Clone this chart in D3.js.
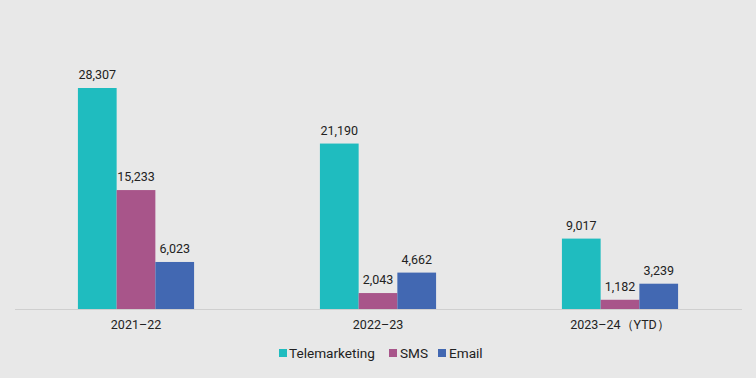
<!DOCTYPE html>
<html><head><meta charset="utf-8">
<script src="https://cdn.jsdelivr.net/npm/d3@7"></script>
<style>html,body{margin:0;padding:0;background:#e8e8e8;}svg{display:block;}</style>
</head><body>
<svg id="c" width="756" height="378"></svg>
<script>
const categories = ["2021–22", "2022–23", "2023–24（YTD）"];
const seriesNames = ["Telemarketing", "SMS", "Email"];
const telemarketing = [28307, 21190, 9017];
const sms = [15233, 2043, 1182];
const email = [6023, 4662, 3239];
const colors = ["#1fbcbf", "#a8558a", "#4268b2"];

const values = [telemarketing, sms, email];
const svg = d3.select("#c");
const font = "Roboto, 'Noto Sans', sans-serif";
svg.append("rect").attr("width", 756).attr("height", 378).attr("fill", "#e8e8e8");

const x0 = d3.scaleBand().domain(categories).range([15, 741]).paddingInner(0.52).paddingOuter(0.26);
const x1 = d3.scaleBand().domain(seriesNames).range([0, x0.bandwidth()]);
const y = d3.scaleLinear().domain([0, 28307]).range([309, 88]);

svg.append("line").attr("x1", 15).attr("x2", 742).attr("y1", 309.5).attr("y2", 309.5)
  .attr("stroke", "#cfcfcf").attr("stroke-width", 1);

const data = [];
categories.forEach((c, i) => seriesNames.forEach((s, j) => data.push({c, s, j, v: values[j][i]})));

svg.selectAll("rect.bar").data(data).enter().append("rect").attr("class", "bar")
  .attr("x", d => x0(d.c) + x1(d.s))
  .attr("width", x1.bandwidth())
  .attr("y", d => y(d.v))
  .attr("height", d => y(0) - y(d.v))
  .attr("fill", d => colors[d.j]);

svg.selectAll("text.val").data(data).enter().append("text").attr("class", "val")
  .attr("x", d => x0(d.c) + x1(d.s) + x1.bandwidth() / 2)
  .attr("y", d => y(d.v) - 9)
  .attr("text-anchor", "middle")
  .attr("font-family", font).attr("font-size", 12.5).attr("fill", "#222")
  .text(d => d3.format(",")(d.v));

const xAxis = svg.append("g").attr("transform", "translate(0,309)")
  .call(d3.axisBottom(x0).tickSize(0).tickPadding(11));
xAxis.select(".domain").remove();
xAxis.selectAll("text").attr("font-family", font).attr("font-size", 12.5).attr("fill", "#222");

const legendItems = [
  {name: "Telemarketing", sx: 279, tx: 289},
  {name: "SMS", sx: 389, tx: 400},
  {name: "Email", sx: 438, tx: 449}
];
const lg = svg.append("g");
legendItems.forEach((it, j) => {
  lg.append("rect").attr("x", it.sx).attr("y", 349).attr("width", 8).attr("height", 8).attr("fill", colors[j]);
  lg.append("text").attr("x", it.tx).attr("y", 358).attr("font-family", font).attr("font-size", 13.6)
    .attr("fill", "#222").text(it.name);
});
</script>
</body></html>
